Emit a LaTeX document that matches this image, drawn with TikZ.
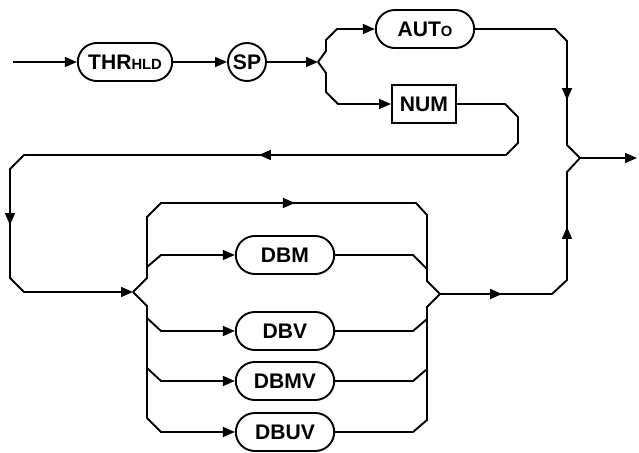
\documentclass[tikz,border=0pt]{standalone}
\usepackage{fontspec}
\newfontfamily\diagfont{Liberation Sans}
\usetikzlibrary{arrows.meta, shapes.misc, decorations.markings}
\newcommand{\lowcaps}[1]{{\fontsize{10.5}{12}\selectfont #1}}

\begin{document}
\begin{tikzpicture}[
  x=0.025cm, y=-0.025cm, line width=1.35pt,
  >={Triangle[length=8.5pt, width=7pt]},
  word/.style={rounded rectangle, draw, minimum width=2.6cm, minimum height=0.95cm,
               inner sep=2pt, font=\diagfont\bfseries\fontsize{15}{17}\selectfont},
  sym/.style={word, circle, minimum size=0.95cm, inner sep=1pt},
  param/.style={word, rectangle, minimum width=1.6cm},
  tipat/.style={postaction={decorate, decoration={markings,
                mark=at position #1 with {\arrow{>}}}}},
]
  \useasboundingbox (0,0) rectangle (639,453);

  \coordinate (in) at (13,62);
  \node[word, minimum width=2.5cm] (thrhld) at (125,62) {THR\lowcaps{HLD}};
  \node[sym] (sp) at (247,62) {SP};
  \coordinate (fork) at (318,62);
  \node[word] (auto) at (425,29) {AUT\lowcaps{O}};
  \node[param] (num) at (424,104) {NUM};
  \coordinate (join) at (580,158);
  \coordinate (out) at (637,158);

  \coordinate (split) at (133,292);
  \node[word] (dbm) at (285,255) {DBM};
  \node[word] (dbv) at (285,331) {DBV};
  \node[word] (dbmv) at (285,381) {DBMV};
  \node[word] (dbuv) at (285,432) {DBUV};
  \coordinate (merge) at (440,294);

  \draw[->] (in) -- (thrhld);
  \draw[->] (thrhld) -- (sp);
  \draw[->] (sp) -- (fork);
  \draw[->] (fork) -- (326,51) -- (326,40) -- (337,29) -- (auto);
  \draw[->] (fork) -- (326,73) -- (326,92) -- (338,104) -- (num);
  \draw[tipat=0.711] (auto.east) -- (555,29) -- (567,41) -- (567,145) -- (join);
  \draw[->, tipat=0.42, tipat=0.786] (num.east) -- (505,104) -- (518,117) -- (518,143)
    -- (506,155) -- (24,155) -- (10,169) -- (10,278) -- (24,292) -- (split);

  \draw[tipat=0.514] (split) -- (147,278) -- (147,217) -- (161,203) -- (416,203)
    -- (427,215) -- (427,281) -- (merge);
  \draw[->] (split) -- (147,306) -- (147,418) -- (161,432) -- (dbuv);
  \draw[->] (147,267) -- (161,255) -- (dbm);
  \draw[->] (147,318) -- (161,331) -- (dbv);
  \draw[->] (147,368) -- (161,381) -- (dbmv);
  \draw (dbm.east) -- (413,255) -- (427,269);
  \draw (dbv.east) -- (413,331) -- (427,319);
  \draw (dbmv.east) -- (413,381) -- (427,369);
  \draw (dbuv.east) -- (413,432) -- (427,420) -- (427,307) -- (merge);
  \draw[tipat=0.239, tipat=0.715] (merge) -- (552,294) -- (567,280) -- (567,172) -- (join);
  \draw[->] (join) -- (out);
\end{tikzpicture}
\end{document}
